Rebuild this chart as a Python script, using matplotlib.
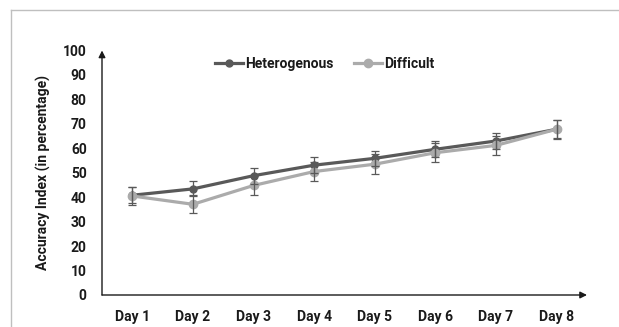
import matplotlib
matplotlib.use("Agg")
import matplotlib.pyplot as plt
from matplotlib.lines import Line2D

days = ["Day 1", "Day 2", "Day 3", "Day 4", "Day 5", "Day 6", "Day 7", "Day 8"]
heterogenous = [40.8, 43.4, 48.8, 53.1, 55.9, 59.6, 63.0, 67.8]
difficult = [40.5, 37.1, 44.8, 50.5, 53.5, 58.2, 61.2, 67.8]
het_err = [3.3, 3.1, 3.3, 3.4, 3.1, 3.3, 3.4, 3.8]
diff_err = [3.8, 3.6, 3.7, 3.8, 4.0, 3.8, 3.9, 3.6]
yticks = [0, 10, 20, 30, 40, 50, 60, 70, 80, 90, 100]

plt.rcParams['font.family'] = ['Roboto', 'DejaVu Sans']
plt.rcParams['font.weight'] = 'bold'

W, H = 619, 327
fig = plt.figure(figsize=(W / 100, H / 100), dpi=100)
ax = fig.add_axes([102 / W, (H - 295) / H, (587 - 102) / W, (295 - 50.5) / H])

x = list(range(1, len(days) + 1))
het_c = '#595959'
dif_c = '#ABABAB'
err_c = '#595959'
fs = 10

ax.plot(x, heterogenous, color=het_c, lw=2.3, marker='o', ms=5, zorder=3,
        label='Heterogenous')
ax.plot(x, difficult, color=dif_c, lw=2.3, marker='o', ms=6, zorder=4,
        label='Difficult')
ax.errorbar(x, heterogenous, yerr=het_err, fmt='none', ecolor=err_c,
            elinewidth=0.9, capsize=3, capthick=0.9, zorder=5)
ax.errorbar(x, difficult, yerr=diff_err, fmt='none', ecolor=err_c,
            elinewidth=0.9, capsize=3, capthick=0.9, zorder=5)

ax.set_xlim(0.5, 8.5)
ax.set_ylim(0, 100)
ax.set_xticks(x)
ax.set_xticklabels(days)
ax.set_yticks(yticks)
for s in ax.spines.values():
    s.set_visible(False)
ax.tick_params(axis='both', length=0, labelsize=fs, colors='#1a1a1a')
ax.tick_params(axis='x', pad=11)
ax.tick_params(axis='y', pad=11)
for lab in ax.get_xticklabels() + ax.get_yticklabels():
    lab.set_fontweight('bold')

ax.set_ylabel('Accuracy Index (in percentage)', fontsize=fs, fontweight='bold',
              color='#1a1a1a')
ax.yaxis.set_label_coords(-0.105, 0.5)

axis_c = '#1a1a1a'
ax.annotate('', xy=(1.0, 0), xytext=(0, 0), xycoords='axes fraction',
            arrowprops=dict(arrowstyle='-|>', color=axis_c, lw=1.0,
                            mutation_scale=10, shrinkA=0, shrinkB=0),
            annotation_clip=False)
ax.annotate('', xy=(0, 1.0), xytext=(0, 0), xycoords='axes fraction',
            arrowprops=dict(arrowstyle='-|>', color=axis_c, lw=1.0,
                            mutation_scale=10, shrinkA=0, shrinkB=0),
            annotation_clip=False)

leg = fig.legend(loc='center', bbox_to_anchor=(325 / W, (H - 64) / H), ncol=2,
                 frameon=False, handlelength=2.0,
                 handletextpad=0.15, columnspacing=1.5,
                 prop={'weight': 'bold', 'size': fs})
for t in leg.get_texts():
    t.set_color('#1a1a1a')

# outer frame (top and left edges)
frame_c = '#BFBFBF'
fig.add_artist(Line2D([11 / W, 1.0], [(H - 10) / H, (H - 10) / H],
                      transform=fig.transFigure, color=frame_c, lw=1.0))
fig.add_artist(Line2D([11 / W, 11 / W], [0, (H - 10) / H],
                      transform=fig.transFigure, color=frame_c, lw=1.0))

fig.savefig('out.png', dpi=100)
